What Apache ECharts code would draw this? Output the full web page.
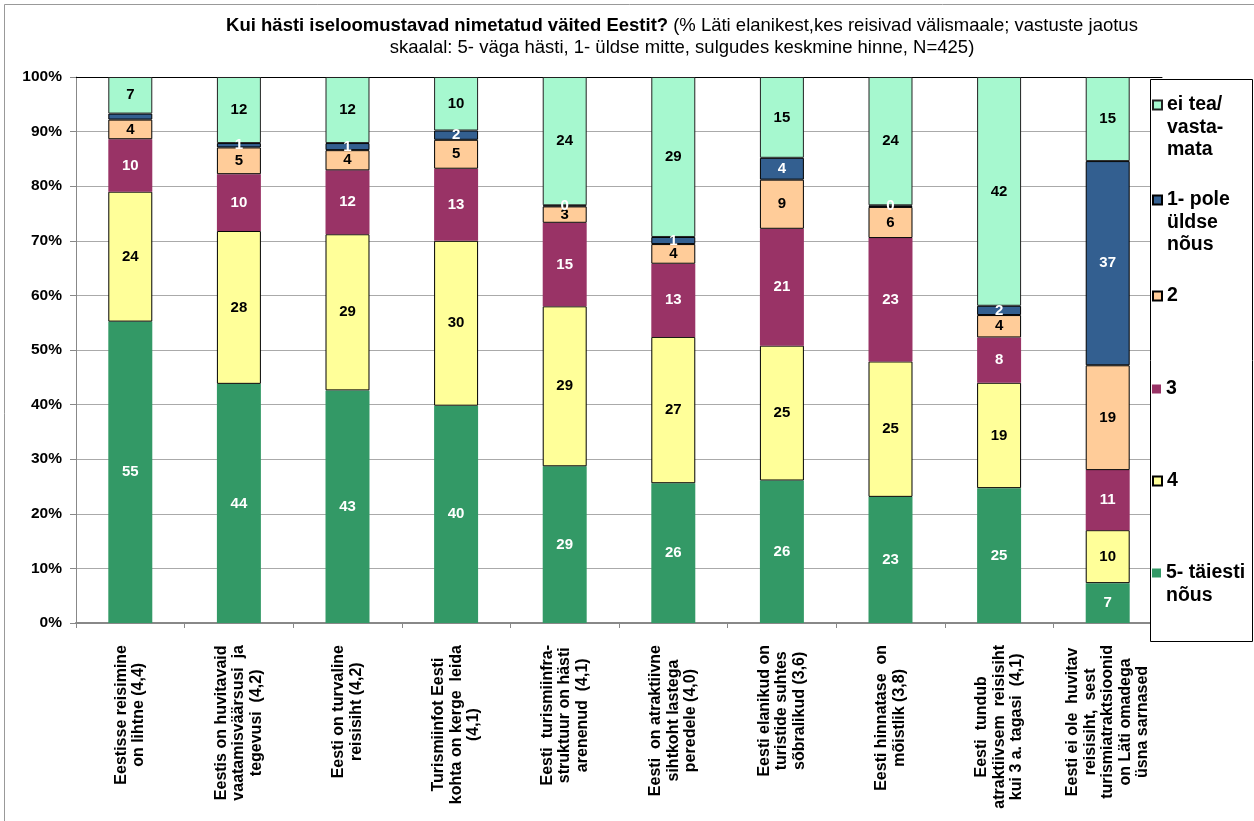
<!DOCTYPE html>
<html>
<head>
<meta charset="utf-8">
<script src="https://cdn.jsdelivr.net/npm/echarts@6/dist/echarts.min.js"></script>
<style>
html,body{margin:0;padding:0;background:#fff;}
#chart{width:1254px;height:821px;}
</style>
</head>
<body>
<div id="chart"></div>
<script>
const categories = [
  "Eestisse reisimine\non lihtne (4,4)",
  "Eestis on huvitavaid\nvaatamisväärsusi  ja\ntegevusi  (4,2)",
  "Eesti on turvaline\nreisisiht (4,2)",
  "Turismiinfot Eesti\nkohta on kerge  leida\n(4,1)",
  "Eesti  turismiinfra-\nstruktuur on hästi\narenenud  (4,1)",
  "Eesti  on atraktiivne\nsihtkoht lastega\nperedele (4,0)",
  "Eesti elanikud on\nturistide suhtes\nsõbralikud (3,6)",
  "Eesti hinnatase  on\nmõistlik (3,8)",
  "Eesti  tundub\natraktiivsem  reisisiht\nkui 3 a. tagasi  (4,1)",
  "Eesti ei ole  huvitav\nreisisiht,  sest\nturismiatraktsioonid\non Läti omadega\nüsna sarnased"
];
const seriesNames = ["5- täiesti\nnõus", "4", "3", "2", "1- pole\nüldse\nnõus", "ei tea/\nvasta-\nmata"];
const s5 = [55.2, 43.8, 42.6, 39.8, 28.7, 25.6, 26.1, 23.1, 24.7, 7.3];
const s4 = [23.8, 28.0, 28.6, 30.2, 29.3, 26.8, 24.7, 24.8, 19.3, 9.7];
const s3 = [9.6, 10.4, 11.7, 13.2, 15.3, 13.4, 21.4, 22.6, 8.3, 11.0];
const s2 = [3.6, 4.9, 3.7, 5.3, 3.0, 3.6, 9.0, 5.7, 4.1, 19.2];
const s1 = [1.1, 0.8, 1.3, 1.7, 0.2, 1.3, 4.0, 0.3, 1.7, 37.4];
const sNA = [6.7, 12.1, 12.1, 9.8, 23.5, 29.3, 14.8, 23.5, 41.9, 15.4];
const s1LabelHidden = [true, false, false, false, false, false, false, false, false, false];
const yTickLabels = ["0%", "10%", "20%", "30%", "40%", "50%", "60%", "70%", "80%", "90%", "100%"];

const FONT = "'Liberation Sans', Arial, sans-serif";
const colors = ["#339966", "#FFFF99", "#993366", "#FFCC99", "#335F90", "#A6F8CF"];
const labelColors = ["#fff", "#000", "#fff", "#000", "#fff", "#000"];
const borders = [null, "#000", null, "#000", "#000", "#222"];
const allData = [s5, s4, s3, s2, s1, sNA];

const series = allData.map((arr, si) => ({
  name: seriesNames[si],
  type: "bar",
  stack: "total",
  barWidth: "40.5%",
  data: arr.map((v, i) => (si === 4 && s1LabelHidden[i]) ? { value: v, label: { show: false } } : v),
  itemStyle: {
    color: colors[si],
    borderColor: borders[si] || colors[si],
    borderWidth: borders[si] ? 1 : 0
  },
  label: {
    show: true,
    position: "inside",
    color: labelColors[si],
    fontFamily: FONT,
    fontWeight: "bold",
    fontSize: 15,
    formatter: p => String(Math.round(p.value))
  },
  emphasis: { disabled: true }
}));

const legendIconY = [105, 200, 296, 389, 481, 573];
const legendOrder = [5, 4, 3, 2, 1, 0];
const LH = 22.5;
const legends = legendOrder.map((si, k) => {
  const n = seriesNames[si].split("\n").length;
  return {
    left: 1152,
    top: legendIconY[k] - (2 * n - 1) * LH / 2,
    padding: 0,
    orient: "vertical",
    icon: "rect",
    itemWidth: 9,
    itemHeight: 9,
    selectedMode: false,
    z: 10,
    data: [seriesNames[si]],
    formatter: name => "\n".repeat(n - 1) + name,
    textStyle: {
      fontFamily: FONT,
      fontWeight: "bold",
      fontSize: 19.5,
      color: "#000",
      lineHeight: LH
    }
  };
});

const chart = echarts.init(document.getElementById("chart"), null, { renderer: "canvas" });
chart.setOption({
  animation: false,
  backgroundColor: "#fff",
  title: {
    left: 682,
    top: 15,
    padding: 0,
    textAlign: "center",
    text: "{b|Kui hästi iseloomustavad nimetatud väited Eestit?} {n|(% Läti elanikest,kes reisivad välismaale; vastuste jaotus}\n{n|skaalal: 5- väga hästi, 1- üldse mitte, sulgudes keskmine hinne, N=425)}",
    textStyle: {
      rich: {
        b: { fontFamily: FONT, fontWeight: "bold", fontSize: 18.5, color: "#000", lineHeight: 22, align: "center" },
        n: { fontFamily: FONT, fontWeight: "normal", fontSize: 18.5, color: "#000", lineHeight: 22, align: "center" }
      }
    }
  },
  legend: legends,
  grid: { left: 76, right: 92, top: 77, bottom: 198, containLabel: false },
  xAxis: [
    {
      type: "category",
      data: categories,
      axisLine: { lineStyle: { color: "#888", width: 2 } },
      axisTick: { show: true, length: 5, lineStyle: { color: "#888" } },
      axisLabel: {
        interval: 0,
        rotate: 90,
        margin: 22,
        formatter: v => v.split("\n").map(s => "{c|" + s + "}").join("\n"),
        rich: {
          c: { fontFamily: FONT, fontWeight: "bold", fontSize: 16, color: "#000", lineHeight: 17.5, align: "center" }
        }
      }
    },
    {
      type: "category",
      position: "top",
      data: categories,
      axisLine: { show: true, lineStyle: { color: "#000", width: 1 } },
      axisTick: { show: false },
      axisLabel: { show: false }
    }
  ],
  yAxis: {
    type: "value",
    min: 0,
    max: 100,
    interval: 10,
    axisLine: { show: true, lineStyle: { color: "#888", width: 1 } },
    axisTick: { show: true, length: 6, lineStyle: { color: "#888" } },
    splitLine: { lineStyle: { color: "#aaa", width: 1 } },
    axisLabel: {
      margin: 14,
      fontFamily: FONT,
      fontWeight: "bold",
      fontSize: 15.5,
      color: "#000",
      formatter: v => yTickLabels[Math.round(v / 10)]
    }
  },
  series: series,
  graphic: [
    { type: "rect", z: 100, silent: true, shape: { x: 4.5, y: 4.5, width: 1300, height: 900 }, style: { fill: "none", stroke: "#999", lineWidth: 1 } },
    { type: "rect", z: 5, silent: true, shape: { x: 1150.5, y: 79.5, width: 102, height: 562 }, style: { fill: "#fff", stroke: "#000", lineWidth: 1 } }
  ]
});
</script>
</body>
</html>
